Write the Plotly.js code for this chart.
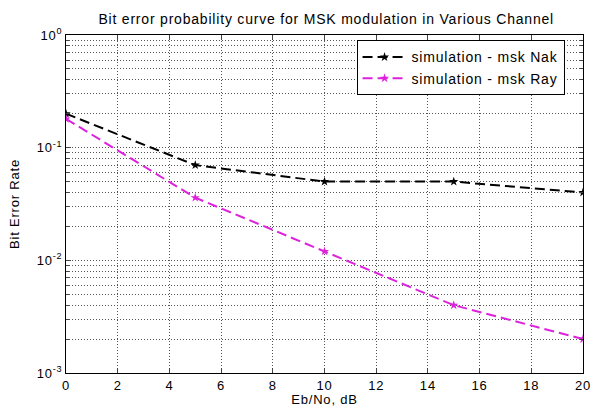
<!DOCTYPE html>
<html><head><meta charset="utf-8">
<script src="https://cdn.plot.ly/plotly-3.0.1.min.js"></script>
<style>html,body{margin:0;padding:0;background:#fff}#c{width:592px;height:407px}
svg text{letter-spacing:0.8px}</style>
</head><body><div id="c"></div>
<script>
const ebno = [0, 5, 10, 15, 20];
const berNak = [0.2, 0.07, 0.05, 0.05, 0.04];
const berRay = [0.18, 0.036, 0.012, 0.004, 0.002];
const xTicks = [0, 2, 4, 6, 8, 10, 12, 14, 16, 18, 20];
const decades = [0.001, 0.01, 0.1, 1];
const decadeLabels = ['10<sup>-3</sup>', '10<sup>-2</sup>', '10<sup>-1</sup>', '10<sup>0</sup>'];

const minorVals = [];
for (let d = 0; d < decades.length - 1; d++) {
  for (let m = 2; m <= 9; m++) minorVals.push(decades[d] * m);
}

const traces = [
  {x: ebno, y: berNak, name: 'simulation - msk Nak', mode: 'lines+markers',
   line: {color: '#000000', dash: '10px,5px', width: 2},
   marker: {symbol: 'star', size: 7, color: '#000000'}},
  {x: ebno, y: berRay, name: 'simulation - msk Ray', mode: 'lines+markers',
   line: {color: '#dd22dd', dash: '10px,5px', width: 2},
   marker: {symbol: 'star', size: 7, color: '#dd22dd'}}
];

const gridCol = '#555';
const gridDash = '1px,2px';
const layout = {
  width: 592, height: 407,
  margin: {l: 66, r: 9, t: 35, b: 34},
  paper_bgcolor: '#fff', plot_bgcolor: '#fff',
  font: {family: 'Liberation Sans, Arial, sans-serif', color: '#000', size: 13},
  title: {text: 'Bit error probability curve for MSK modulation in Various Channel',
          x: 0.551, xanchor: 'center', y: 0.953, yanchor: 'middle',
          font: {size: 14, color: '#000'}},
  showlegend: true,
  legend: {x: 0.562, xanchor: 'left', y: 0.984, yanchor: 'top',
           bgcolor: '#fff', bordercolor: '#000', borderwidth: 1,
           font: {size: 14, color: '#000'}, tracegroupgap: 0, itemwidth: 44},
  xaxis: {range: [0, 20], tickvals: xTicks, ticks: 'inside', ticklen: 5,
          ticklabeloverflow: 'allow',
          showline: true, linecolor: '#000', linewidth: 1, mirror: 'ticks',
          showgrid: true, gridcolor: gridCol, griddash: gridDash, gridwidth: 1,
          zeroline: false, tickfont: {size: 13},
          title: {text: 'Eb/No, dB', standoff: 0, font: {size: 13}}},
  yaxis: {type: 'log', range: [-3.00001, 0.00001], tickvals: decades, ticktext: decadeLabels,
          ticks: 'inside', ticklen: 5,
          showline: true, linecolor: '#000', linewidth: 1, mirror: 'ticks',
          showgrid: true, gridcolor: gridCol, griddash: gridDash, gridwidth: 1,
          zeroline: false, tickfont: {size: 13},
          minor: {tickmode: 'array', tickvals: minorVals, ticks: 'inside', ticklen: 3,
                  showgrid: true, gridcolor: gridCol, griddash: gridDash, gridwidth: 1},
          title: {text: 'Bit Error Rate', standoff: 14, font: {size: 13}}}
};
Plotly.newPlot('c', traces, layout, {staticPlot: true});
</script></body></html>
